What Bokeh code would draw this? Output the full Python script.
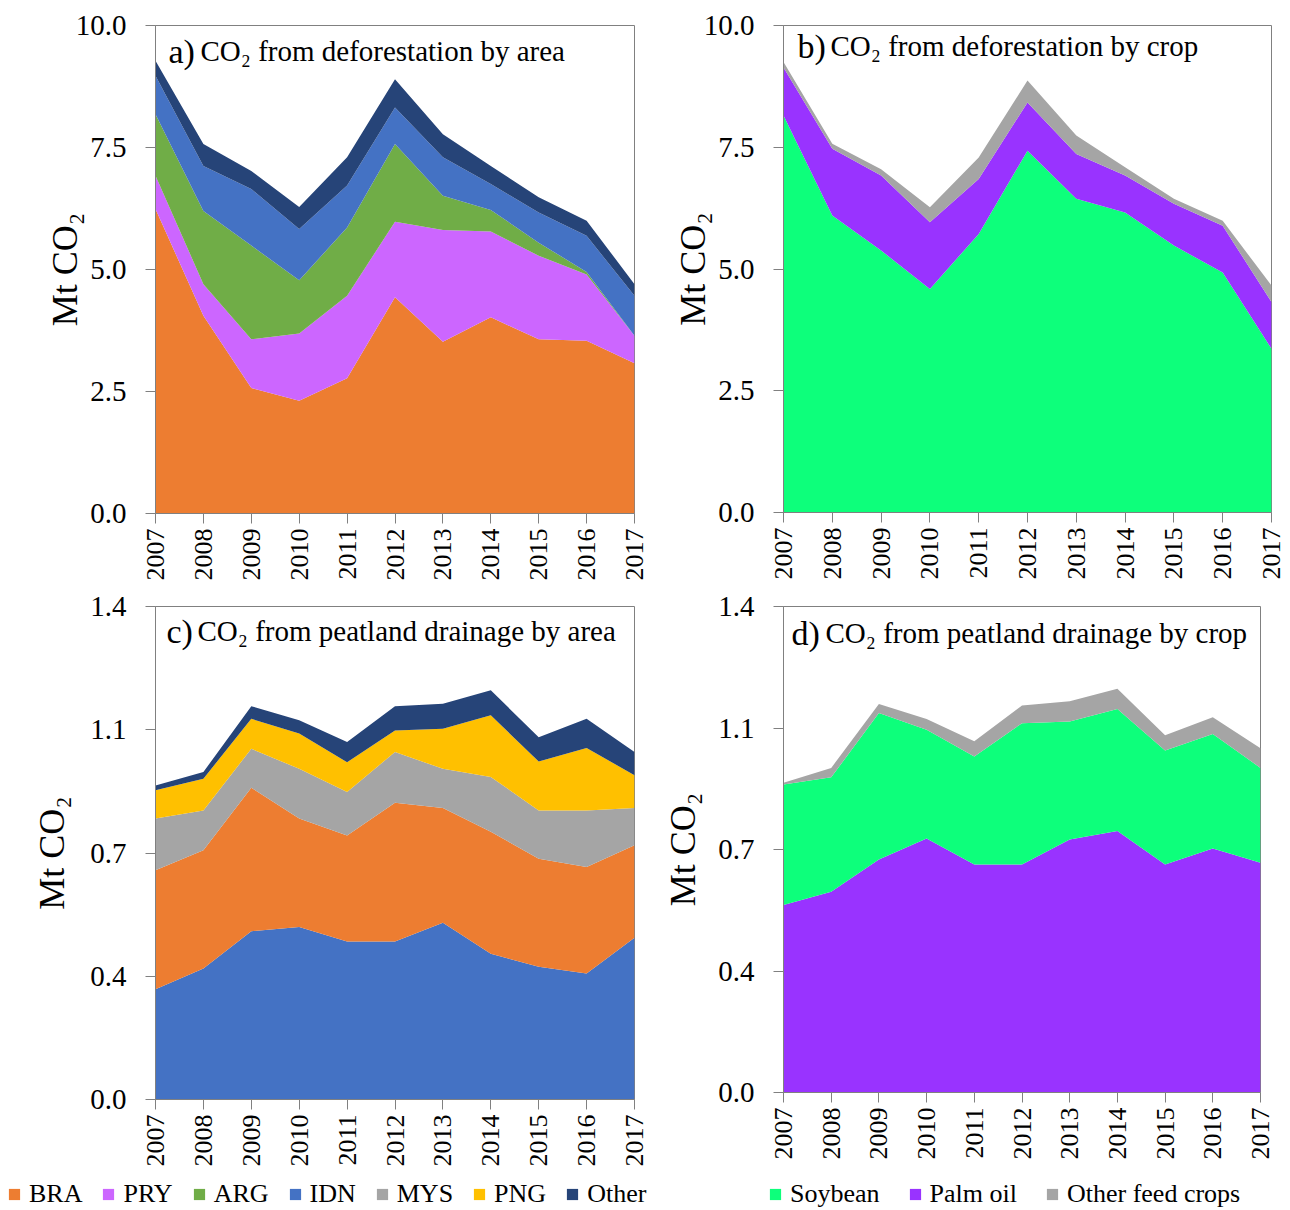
import numpy as np
from bokeh.plotting import figure
from bokeh.models import ColumnDataSource, Range1d, FixedTicker, Legend, LegendItem
from bokeh.layouts import column, row
from bokeh.core.properties import value
from bokeh.embed import file_html
from bokeh.resources import INLINE

years = list(range(2007, 2018))

# ---- data (Mt CO2) ----
# a) CO2 from deforestation by area
a_BRA = [6.24, 4.05, 2.57, 2.31, 2.77, 4.43, 3.52, 4.02, 3.57, 3.54, 3.08]
a_PRY = [0.68, 0.65, 1.00, 1.38, 1.69, 1.55, 2.29, 1.76, 1.71, 1.36, 0.56]
a_ARG = [1.26, 1.50, 1.92, 1.09, 1.40, 1.59, 0.70, 0.44, 0.27, 0.05, 0.00]
a_IDN = [0.79, 0.92, 1.16, 1.05, 0.86, 0.75, 0.79, 0.53, 0.62, 0.74, 0.82]
a_Other = [0.31, 0.45, 0.37, 0.45, 0.58, 0.58, 0.47, 0.37, 0.31, 0.31, 0.24]

# b) CO2 from deforestation by crop
b_Soybean = [8.15, 6.10, 5.38, 4.59, 5.72, 7.43, 6.44, 6.16, 5.48, 4.93, 3.36]
b_Palm = [0.99, 1.37, 1.54, 1.37, 1.13, 0.99, 0.92, 0.76, 0.86, 0.96, 0.96]
b_OtherFeed = [0.11, 0.10, 0.13, 0.31, 0.44, 0.45, 0.38, 0.17, 0.10, 0.10, 0.34]

# c) CO2 from peatland drainage by area
c_IDN = [0.313, 0.372, 0.478, 0.490, 0.449, 0.449, 0.502, 0.414, 0.377, 0.358, 0.459]
c_BRA = [0.338, 0.336, 0.407, 0.308, 0.301, 0.394, 0.326, 0.346, 0.307, 0.302, 0.263]
c_MYS = [0.147, 0.113, 0.111, 0.141, 0.123, 0.144, 0.111, 0.156, 0.137, 0.161, 0.106]
c_PNG = [0.080, 0.090, 0.085, 0.100, 0.085, 0.061, 0.114, 0.175, 0.139, 0.177, 0.093]
c_Other = [0.014, 0.019, 0.036, 0.038, 0.057, 0.069, 0.071, 0.071, 0.069, 0.083, 0.066]

# d) CO2 from peatland drainage by crop
d_Palm = [0.540, 0.578, 0.671, 0.732, 0.657, 0.657, 0.729, 0.753, 0.657, 0.703, 0.662]
d_Soybean = [0.347, 0.330, 0.422, 0.313, 0.311, 0.407, 0.340, 0.352, 0.328, 0.330, 0.273]
d_OtherFeed = [0.005, 0.027, 0.026, 0.031, 0.044, 0.051, 0.058, 0.058, 0.044, 0.048, 0.057]

area_names = ["BRA", "PRY", "ARG", "IDN", "MYS", "PNG", "Other"]
area_colors = {"BRA": "#ED7D31", "PRY": "#CC66FF", "ARG": "#70AD47", "IDN": "#4472C4",
               "MYS": "#A5A5A5", "PNG": "#FFC000", "Other": "#264478"}
crop_names = ["Soybean", "Palm oil", "Other feed crops"]
crop_colors = {"Soybean": "#0DFF7B", "Palm oil": "#9933FF", "Other feed crops": "#A5A5A5"}

yticks_def = [0.0, 2.5, 5.0, 7.5, 10.0]
ylabels_def = ["0.0", "2.5", "5.0", "7.5", "10.0"]
yticks_peat = [0.0, 0.35, 0.7, 1.05, 1.4]
ylabels_peat = ["0.0", "0.4", "0.7", "1.1", "1.4"]

letters = ["a)", "b)", "c)", "d)"]
titles = ["CO\u2082 from deforestation by area",
          "CO\u2082 from deforestation by crop",
          "CO\u2082 from peatland drainage by area",
          "CO\u2082 from peatland drainage by crop"]

FONT = "Liberation Serif"
GRAY = "#808080"


def panel(names, vals, cols, ymax, yticks, ylabels, letter, title,
          fw, fh, bl, br, bt, bb, lab_standoff, loff, toff, yoff):
    data = {"year": years}
    for n, v in zip(names, vals):
        data[n] = v
    src = ColumnDataSource(data)
    p = figure(frame_width=fw, frame_height=fh,
               min_border_left=bl, min_border_right=br,
               min_border_top=bt, min_border_bottom=bb,
               x_range=Range1d(2007, 2017), y_range=Range1d(0, ymax),
               toolbar_location=None, output_backend="svg",
               background_fill_color="white", border_fill_color="white",
               outline_line_color=GRAY, outline_line_width=1)
    p.varea_stack(stackers=names, x="year", color=cols, source=src)
    p.xgrid.visible = False
    p.ygrid.visible = False

    p.xaxis.ticker = FixedTicker(ticks=years)
    p.xaxis.major_label_orientation = np.pi / 2
    p.xaxis.major_label_text_font = FONT
    p.xaxis.major_label_text_font_size = "26px"
    p.xaxis.major_label_text_color = "black"
    p.xaxis.major_label_standoff = 5

    p.yaxis.ticker = FixedTicker(ticks=yticks)
    p.yaxis.major_label_overrides = {t: l for t, l in zip(yticks, ylabels)}
    p.yaxis.major_label_text_font = FONT
    p.yaxis.major_label_text_font_size = "29px"
    p.yaxis.major_label_text_color = "black"
    p.yaxis.major_label_standoff = 19
    p.yaxis.axis_label = "Mt CO\u2082"
    p.yaxis.axis_label_text_font = FONT
    p.yaxis.axis_label_text_font_size = "36px"
    p.yaxis.axis_label_text_font_style = "normal"
    p.yaxis.axis_label_text_color = "black"
    p.yaxis.axis_label_standoff = lab_standoff

    for ax in (p.xaxis, p.yaxis):
        ax.axis_line_color = GRAY
        ax.major_tick_line_color = GRAY
        ax.major_tick_out = 10
        ax.major_tick_in = 0
        ax.minor_tick_line_color = None

    p.text(x=[2007], y=[ymax], text=[letter], x_offset=loff, y_offset=yoff + 1,
           text_font=value(FONT), text_font_size=value("34px"),
           text_baseline="alphabetic", text_align="left", text_color="black")
    p.text(x=[2007], y=[ymax], text=[title], x_offset=toff, y_offset=yoff,
           text_font=value(FONT), text_font_size=value("29px"),
           text_baseline="alphabetic", text_align="left", text_color="black")
    return p


pa = panel(["BRA", "PRY", "ARG", "IDN", "Other"], [a_BRA, a_PRY, a_ARG, a_IDN, a_Other],
           [area_colors[n] for n in ["BRA", "PRY", "ARG", "IDN", "Other"]],
           10.0, yticks_def, ylabels_def, letters[0], titles[0],
           479, 488, 155, 14, 23, 75, -12, 13, 45, 25)
pb = panel(crop_names, [b_Soybean, b_Palm, b_OtherFeed],
           [crop_colors[n] for n in crop_names],
           10.0, yticks_def, ylabels_def, letters[1], titles[1],
           488, 487, 135, 17, 25, 74, -12, 14, 47, 20)
pc = panel(["IDN", "BRA", "MYS", "PNG", "Other"], [c_IDN, c_BRA, c_MYS, c_PNG, c_Other],
           [area_colors[n] for n in ["IDN", "BRA", "MYS", "PNG", "Other"]],
           1.4, yticks_peat, ylabels_peat, letters[2], titles[2],
           479, 493, 155, 14, 19, 74, 15, 11, 42, 24)
pd_ = panel(["Palm oil", "Soybean", "Other feed crops"], [d_Palm, d_Soybean, d_OtherFeed],
            [crop_colors[n] for n in ["Palm oil", "Soybean", "Other feed crops"]],
            1.4, yticks_peat, ylabels_peat, letters[3], titles[3],
            477, 486, 135, 28, 20, 80, 12, 8, 42, 26)

# ---- legend strip (swatch renderers sit outside the visible range) ----
leg = figure(frame_width=1288, frame_height=36, min_border=0,
             x_range=Range1d(0, 1), y_range=Range1d(0, 1),
             x_axis_type=None, y_axis_type=None, toolbar_location=None,
             output_backend="svg", outline_line_color=None,
             background_fill_color="white", border_fill_color="white")
leg.xgrid.visible = False
leg.ygrid.visible = False


def make_legend(names, colors, x, spacing):
    items = []
    for n in names:
        r = leg.varea(x=[5, 6], y1=[5, 5], y2=[5, 5], color=colors[n])
        items.append(LegendItem(label=n, renderers=[r]))
    L = Legend(items=items, location=(x, -1), orientation="horizontal",
               padding=0, margin=0, spacing=spacing, label_standoff=8,
               glyph_width=14, glyph_height=14, label_height=26,
               label_text_font=FONT, label_text_font_size="26px",
               label_text_color="black",
               background_fill_alpha=0, border_line_alpha=0)
    leg.add_layout(L, "center")


make_legend(area_names, area_colors, 7, 19)
make_legend(crop_names, crop_colors, 768, 28)

layout = column(row(pa, pb), row(pc, pd_), leg)

open("out.html", "w").write(file_html(layout, INLINE))
